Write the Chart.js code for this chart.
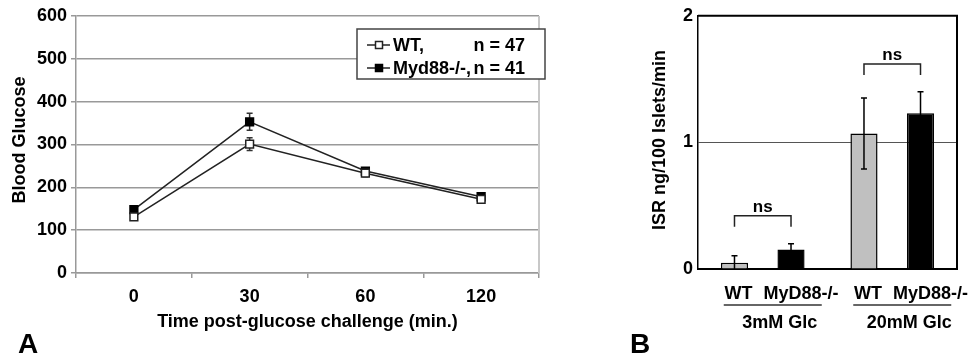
<!DOCTYPE html>
<html>
<head>
<meta charset="utf-8">
<script src="https://cdn.jsdelivr.net/npm/chart.js@4.4.1/dist/chart.umd.min.js"></script>
<style>
  html, body { margin: 0; padding: 0; background: #fff; }
  #wrap { position: relative; width: 972px; height: 358px; overflow: hidden; }
  canvas { position: absolute; top: 0; }
  #glucoseGraph { left: 0; }
  #isrGraph { left: 580px; }
</style>
</head>
<body>
<div id="wrap">
  <canvas id="glucoseGraph" width="560" height="358"></canvas>
  <canvas id="isrGraph" width="392" height="358"></canvas>
</div>
<script>
// panel A - glucose tolerance
var timeLabels = ["0", "30", "60", "120"];
var wtGlucose = [131, 301, 233, 172];
var wtGlucoseErr = [7, 15, 8, 6];
var koGlucose = [148, 353, 238, 178];
var koGlucoseErr = [7, 20, 8, 6];
var glucoseTicks = [0, 100, 200, 300, 400, 500, 600];
var groupN = [47, 41];

// panel B - insulin secretion
var glcLabels = ["3mM Glc", "20mM Glc"];
var wtIsr = [0.05, 1.07];
var wtIsrErr = [0.055, 0.28];
var koIsr = [0.155, 1.23];
var koIsrErr = [0.045, 0.17];
var isrTicks = [0, 1, 2];
var nsLevel = [0.42, 1.62];

var FONT = "'Liberation Sans', Arial, sans-serif";
Chart.defaults.font.family = FONT;
Chart.defaults.font.size = 18;
Chart.defaults.font.weight = "bold";
Chart.defaults.color = "#000";

// vertical error bars read from dataset.errors
function errorBarPlugin(hook, color) {
  var p = { id: "errorBars" };
  p[hook] = function (chart) {
    var ctx = chart.ctx, area = chart.chartArea, y = chart.scales.y;
    ctx.save();
    ctx.beginPath();
    ctx.rect(area.left, area.top - 20, area.right - area.left, area.bottom - area.top + 20);
    ctx.clip();
    ctx.strokeStyle = color;
    ctx.lineWidth = 1.5;
    chart.data.datasets.forEach(function (ds, i) {
      var meta = chart.getDatasetMeta(i);
      meta.data.forEach(function (el, j) {
        var v = ds.data[j], e = ds.errors[j];
        var yTop = y.getPixelForValue(v + e), yBot = y.getPixelForValue(v - e);
        ctx.beginPath();
        ctx.moveTo(el.x, yTop); ctx.lineTo(el.x, yBot);
        ctx.moveTo(el.x - 3, yTop); ctx.lineTo(el.x + 3, yTop);
        ctx.moveTo(el.x - 3, yBot); ctx.lineTo(el.x + 3, yBot);
        ctx.stroke();
      });
    });
    ctx.restore();
  };
  return p;
}

var glucoseDecor = {
  id: "glucoseDecor",
  afterDraw: function (chart) {
    var ctx = chart.ctx, area = chart.chartArea;
    ctx.save();
    // plot area right border
    ctx.strokeStyle = "#c8c8c8";
    ctx.lineWidth = 2;
    ctx.beginPath();
    ctx.moveTo(area.right, area.top); ctx.lineTo(area.right, area.bottom);
    ctx.stroke();

    // boxed legend
    var x0 = area.right - 182, y0 = area.top + 13;
    ctx.fillStyle = "#fff";
    ctx.fillRect(x0, y0, 188, 50);
    ctx.strokeStyle = "#444";
    ctx.lineWidth = 1.5;
    ctx.strokeRect(x0, y0, 188, 50);
    ctx.font = "bold 18px " + FONT;
    ctx.textBaseline = "middle";
    chart.data.datasets.forEach(function (ds, i) {
      var cy = y0 + 16 + i * 23;
      ctx.strokeStyle = ds.borderColor;
      ctx.lineWidth = 1.5;
      ctx.beginPath();
      ctx.moveTo(x0 + 10, cy); ctx.lineTo(x0 + 33, cy);
      ctx.stroke();
      ctx.fillStyle = ds.pointBackgroundColor;
      ctx.fillRect(x0 + 18.5, cy - 3.5, 7, 7);
      ctx.strokeStyle = ds.pointBorderColor;
      ctx.strokeRect(x0 + 18.5, cy - 3.5, 7, 7);
      ctx.fillStyle = "#000";
      ctx.textAlign = "left";
      ctx.fillText(ds.label, x0 + 36, cy + 1);
      ctx.textAlign = "right";
      ctx.fillText("n = " + groupN[i], x0 + 168, cy + 1);
    });

    // titles
    ctx.fillStyle = "#000";
    ctx.textAlign = "center";
    ctx.textBaseline = "alphabetic";
    ctx.fillText("Time post-glucose challenge (min.)", (area.left + area.right) / 2, 327);
    ctx.save();
    ctx.translate(20, 140);
    ctx.rotate(-Math.PI / 2);
    ctx.textBaseline = "middle";
    ctx.fillText("Blood Glucose", 0, 0);
    ctx.restore();
    ctx.font = "bold 28px " + FONT;
    ctx.textAlign = "left";
    ctx.fillText("A", 18, 353);
    ctx.restore();
  }
};

new Chart(document.getElementById("glucoseGraph").getContext("2d"), {
  type: "line",
  data: {
    labels: timeLabels,
    datasets: [
      {
        label: "WT,",
        data: wtGlucose,
        errors: wtGlucoseErr,
        borderColor: "#222",
        borderWidth: 1.5,
        pointStyle: "rect",
        pointRadius: 5.5,
        pointBorderWidth: 1.5,
        pointBackgroundColor: "#fff",
        pointBorderColor: "#222",
        tension: 0
      },
      {
        label: "Myd88-/-,",
        data: koGlucose,
        errors: koGlucoseErr,
        borderColor: "#222",
        borderWidth: 1.5,
        pointStyle: "rect",
        pointRadius: 5.5,
        pointBorderWidth: 1.5,
        pointBackgroundColor: "#000",
        pointBorderColor: "#000",
        tension: 0
      }
    ]
  },
  options: {
    responsive: false,
    animation: false,
    layout: { padding: { top: 16, right: 21, left: 0, bottom: 0 } },
    plugins: { legend: { display: false }, tooltip: { enabled: false } },
    scales: {
      x: {
        offset: true,
        grid: { drawOnChartArea: false, offset: true, tickLength: 5, color: "#999", lineWidth: 1.5 },
        border: { color: "#999", width: 1.5 },
        ticks: { padding: 8 },
        afterFit: function (s) { s.height = 85; }
      },
      y: {
        min: 0,
        max: 600,
        afterBuildTicks: function (s) { s.ticks = glucoseTicks.map(function (v) { return { value: v }; }); },
        grid: { color: "#999", lineWidth: 1.5, tickLength: 5 },
        border: { color: "#999", width: 1.5 },
        ticks: { padding: 4 },
        afterFit: function (s) { s.width = 76; }
      }
    }
  },
  plugins: [errorBarPlugin("beforeDatasetsDraw", "#333"), glucoseDecor]
});

var isrDecor = {
  id: "isrDecor",
  afterDraw: function (chart) {
    var ctx = chart.ctx, area = chart.chartArea, y = chart.scales.y, x = chart.scales.x;
    var wtMeta = chart.getDatasetMeta(0), koMeta = chart.getDatasetMeta(1);
    ctx.save();
    // box top and right
    ctx.strokeStyle = "#000";
    ctx.lineWidth = 2;
    ctx.beginPath();
    ctx.moveTo(area.left, area.top); ctx.lineTo(area.right, area.top); ctx.lineTo(area.right, area.bottom);
    ctx.stroke();

    ctx.fillStyle = "#000";
    ctx.font = "bold 18px " + FONT;
    ctx.textAlign = "center";
    glcLabels.forEach(function (g, j) {
      var a = wtMeta.data[j].x, b = koMeta.data[j].x;
      // ns bracket
      var by = y.getPixelForValue(nsLevel[j]);
      ctx.lineWidth = 1.5;
      ctx.strokeStyle = "#222";
      ctx.beginPath();
      ctx.moveTo(a, by + 11); ctx.lineTo(a, by); ctx.lineTo(b, by); ctx.lineTo(b, by + 11);
      ctx.stroke();
      ctx.textBaseline = "middle";
      ctx.font = "bold 17px " + FONT;
      ctx.fillText("ns", (a + b) / 2, by - 9);
      // genotype labels
      ctx.font = "bold 18px " + FONT;
      ctx.fillText(chart.data.datasets[0].label, a + 4, 294);
      ctx.fillText(chart.data.datasets[1].label, b + 10, 294);
      // group underline + label
      var c = x.getPixelForValue(j) + 10;
      ctx.strokeStyle = "#333";
      ctx.beginPath();
      ctx.moveTo(c - 49, 305); ctx.lineTo(c + 49, 305);
      ctx.stroke();
      ctx.fillText(g, c + 7, 323);
    });

    ctx.save();
    ctx.translate(80, 140);
    ctx.rotate(-Math.PI / 2);
    ctx.textBaseline = "middle";
    ctx.fillText("ISR ng/100 Islets/min", 0, 0);
    ctx.restore();
    ctx.font = "bold 28px " + FONT;
    ctx.textAlign = "left";
    ctx.textBaseline = "alphabetic";
    ctx.fillText("B", 50, 353);
    ctx.restore();
  }
};

new Chart(document.getElementById("isrGraph").getContext("2d"), {
  type: "bar",
  data: {
    labels: glcLabels,
    datasets: [
      { label: "WT", data: wtIsr, errors: wtIsrErr, backgroundColor: "#c0c0c0", borderColor: "#000", borderWidth: 1.5 },
      { label: "MyD88-/-", data: koIsr, errors: koIsrErr, backgroundColor: "#000", borderColor: "#000", borderWidth: 1.5 }
    ]
  },
  options: {
    responsive: false,
    animation: false,
    layout: { padding: { top: 11, right: 15, left: 0, bottom: 0 } },
    datasets: { bar: { categoryPercentage: 0.873, barPercentage: 0.48 } },
    plugins: { legend: { display: false }, tooltip: { enabled: false } },
    scales: {
      x: {
        grid: { display: false },
        ticks: { display: false },
        border: { display: true, color: "#000", width: 2 },
        afterFit: function (s) { s.height = 89; }
      },
      y: {
        min: 0,
        max: 2,
        afterBuildTicks: function (s) { s.ticks = isrTicks.map(function (v) { return { value: v }; }); },
        grid: {
          color: function (c) { return c.tick && c.tick.value === 1 ? "#555" : "rgba(0,0,0,0)"; },
          lineWidth: 1,
          drawTicks: false
        },
        border: { color: "#000", width: 1.5 },
        ticks: { padding: 5 },
        afterFit: function (s) { s.width = 118; }
      }
    }
  },
  plugins: [errorBarPlugin("afterDatasetsDraw", "#000"), isrDecor]
});
</script>
</body>
</html>
